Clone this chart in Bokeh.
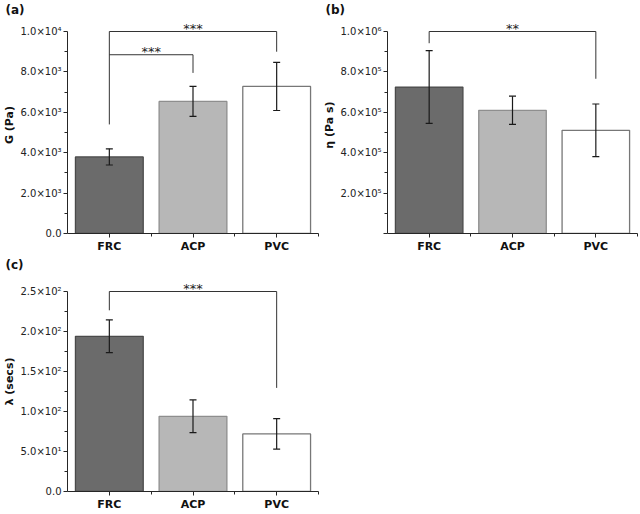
from bokeh.plotting import figure
from bokeh.models import Range1d, FixedTicker, ColumnDataSource, Whisker, TeeHead
from bokeh.layouts import column, row
from bokeh.embed import file_html
from bokeh.resources import INLINE
from bokeh.core.properties import value

FONT = "DejaVu Sans"

categories = ["FRC", "ACP", "PVC"]
bar_fills = ["#6b6b6b", "#b7b7b7", "#ffffff"]
bar_lines = ["#4a4a4a", "#8e8e8e", "#777777"]

# (a) G (Pa)
g_mean = [3790, 6540, 7280]
g_err = [400, 740, 1190]
g_ticks = [0, 2000, 4000, 6000, 8000, 10000]
g_tick_labels = ["0.0", "2.0×10³", "4.0×10³", "6.0×10³", "8.0×10³", "1.0×10⁴"]
g_minor = [1000, 3000, 5000, 7000, 9000]
g_br_left = [1, 1]
g_br_right = [3, 2]
g_br_top = [10000, 8850]
g_br_left_low = [5400, 8850]
g_br_right_low = [9000, 7950]
g_br_stars = ["***", "***"]

# (b) eta (Pa s)
e_mean = [725000, 610000, 511000]
e_err = [180000, 70000, 130000]
e_ticks = [0, 200000, 400000, 600000, 800000, 1000000]
e_tick_labels = ["", "2.0×10⁵", "4.0×10⁵", "6.0×10⁵", "8.0×10⁵", "1.0×10⁶"]
e_minor = [100000, 300000, 500000, 700000, 900000]
e_br_left = [1]
e_br_right = [3]
e_br_top = [1000000]
e_br_left_low = [942000]
e_br_right_low = [766000]
e_br_stars = ["**"]

# (c) lambda (secs)
l_mean = [194, 94, 72]
l_err = [20.5, 20.5, 19]
l_ticks = [0, 50, 100, 150, 200, 250]
l_tick_labels = ["0.0", "5.0×10¹", "1.0×10²", "1.5×10²", "2.0×10²", "2.5×10²"]
l_minor = [25, 75, 125, 175, 225]
l_br_left = [1]
l_br_right = [3]
l_br_top = [250]
l_br_left_low = [226.5]
l_br_right_low = [129.5]
l_br_stars = ["***"]

AX = "#262626"


def panel(letter, ylabel, means, errs, ticks, tlabels, minor, ytop, ymax,
          bl, br, btop, bll, brl, stars, width, height, right_border):
    xs = [i + 1 for i in range(len(categories))]
    p = figure(width=width, height=height, output_backend="svg",
               toolbar_location=None, x_range=Range1d(0.5, len(categories) + 0.5),
               y_range=Range1d(0, ymax), min_border_top=0, min_border_left=0,
               min_border_right=right_border, min_border_bottom=0, title=letter)
    p.grid.visible = False
    p.outline_line_color = None
    p.background_fill_color = "white"
    p.border_fill_color = "white"

    t = p.title
    t.align = "left"
    t.offset = -62
    t.standoff = 0
    t.text_font = FONT
    t.text_font_style = "bold"
    t.text_font_size = "12px"
    t.text_color = "#111111"

    src = ColumnDataSource(dict(
        x=xs, top=means, fill=bar_fills, line=bar_lines,
        upper=[m + e for m, e in zip(means, errs)],
        lower=[m - e for m, e in zip(means, errs)]))
    p.vbar(x="x", top="top", bottom=0, width=0.81, source=src,
           fill_color="fill", line_color="line", line_width=1.3)
    w = Whisker(base="x", upper="upper", lower="lower", source=src,
                line_color="#1a1a1a", line_width=1.2, level="overlay",
                upper_head=TeeHead(size=7, line_color="#1a1a1a", line_width=1.2),
                lower_head=TeeHead(size=7, line_color="#1a1a1a", line_width=1.2))
    p.add_layout(w)

    bxs = [[l, l, r, r] for l, r in zip(bl, br)]
    bys = [[a, tp, tp, b] for a, tp, b in zip(bll, btop, brl)]
    p.multi_line(xs=bxs, ys=bys, line_color="#333333", line_width=1)
    p.text(x=[(l + r) / 2 for l, r in zip(bl, br)], y=btop, text=stars,
           text_align="center", text_baseline="alphabetic", y_offset=-3,
           text_font=value(FONT), text_font_size="13px", text_color="#222222")

    xa = p.xaxis[0]
    xa.ticker = FixedTicker(ticks=xs, minor_ticks=[x + 0.5 for x in xs])
    xa.major_label_overrides = {x: c for x, c in zip(xs, categories)}
    xa.major_label_text_font = FONT
    xa.major_label_text_font_style = "bold"
    xa.major_label_text_font_size = "11px"
    xa.major_label_text_color = "#111111"
    xa.major_label_standoff = 2

    ya = p.yaxis[0]
    ya.bounds = (0, ytop)
    ya.ticker = FixedTicker(ticks=ticks, minor_ticks=minor)
    ya.major_label_overrides = {tk: s for tk, s in zip(ticks, tlabels)}
    ya.major_label_text_font = FONT
    ya.major_label_text_font_size = "10px"
    ya.major_label_text_color = "#222222"
    ya.major_label_standoff = 2
    ya.axis_label = ylabel
    ya.axis_label_text_font = FONT
    ya.axis_label_text_font_style = "bold"
    ya.axis_label_text_font_size = "11px"
    ya.axis_label_text_color = "#111111"
    ya.axis_label_standoff = 1

    for ax in (xa, ya):
        ax.axis_line_color = AX
        ax.axis_line_width = 1
        ax.major_tick_line_color = AX
        ax.minor_tick_line_color = AX
        ax.major_tick_in = 0
        ax.major_tick_out = 4
        ax.minor_tick_in = 0
        ax.minor_tick_out = 3
    return p


pa = panel("(a)", "G (Pa)", g_mean, g_err, g_ticks, g_tick_labels, g_minor,
           10000, 10743, g_br_left, g_br_right, g_br_top, g_br_left_low,
           g_br_right_low, g_br_stars, 320, 255, 2)
pb = panel("(b)", "η (Pa s)", e_mean, e_err, e_ticks, e_tick_labels, e_minor,
           1000000, 1074300, e_br_left, e_br_right, e_br_top, e_br_left_low,
           e_br_right_low, e_br_stars, 320, 255, 3)
pc = panel("(c)", "λ (secs)", l_mean, l_err, l_ticks, l_tick_labels, l_minor,
           250, 275, l_br_left, l_br_right, l_br_top, l_br_left_low,
           l_br_right_low, l_br_stars, 320, 258, 2)

layout = column(row(pa, pb), row(pc))
open("out.html", "w").write(file_html(layout, INLINE))
